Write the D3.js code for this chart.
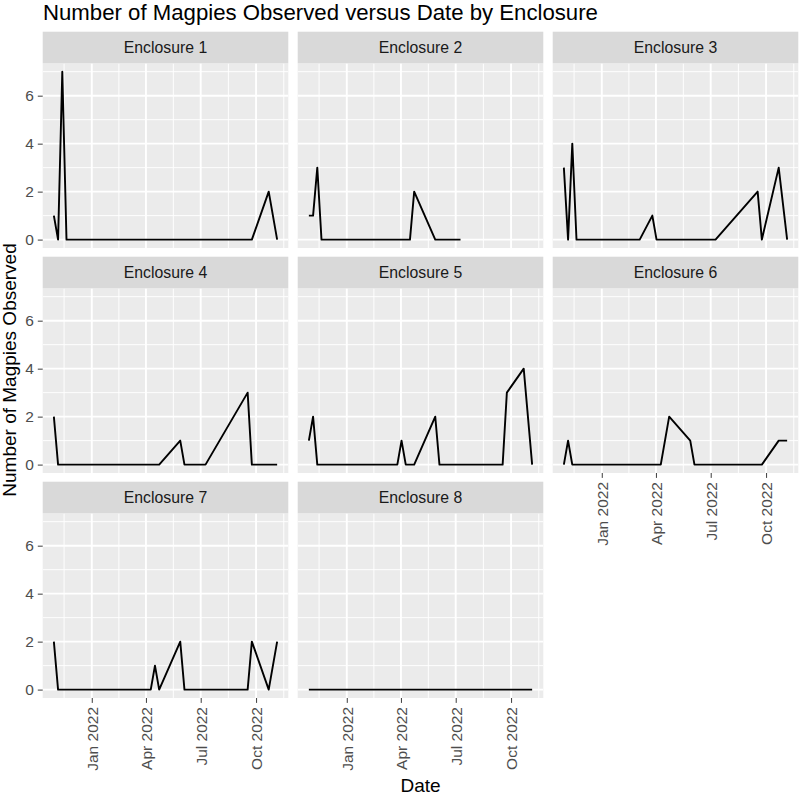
<!DOCTYPE html>
<html>
<head>
<meta charset="utf-8">
<script src="https://cdn.jsdelivr.net/npm/d3@7"></script>
<style>
  html, body { margin: 0; padding: 0; background: #ffffff; }
  svg text { font-family: "Liberation Sans", Arial, Helvetica, sans-serif; }
</style>
</head>
<body>
<svg id="chart" width="800" height="796"></svg>
<script>
// ---- data ----
const enclosures = ["Enclosure 1","Enclosure 2","Enclosure 3","Enclosure 4","Enclosure 5","Enclosure 6","Enclosure 7","Enclosure 8"];
const dates = ["2021-10-30","2021-11-06","2021-11-13","2021-11-20","2022-03-05","2022-03-26","2022-04-02","2022-04-09","2022-04-16","2022-04-23","2022-05-28","2022-06-04","2022-07-09","2022-09-17","2022-09-24","2022-10-22","2022-11-05"];
const enc1 = [1,0,7,0,0,0,0,0,0,0,0,0,0,0,0,2,0];
const enc2 = [1,1,3,0,0,0,0,0,0,2,0,0,0,null,null,null,null];
const enc3 = [3,0,4,0,0,1,0,0,0,0,0,0,0,2,0,3,0];
const enc4 = [2,0,0,0,0,0,0,0,0,0,1,0,0,3,0,0,0];
const enc5 = [1,2,0,0,0,0,1,0,0,0,2,0,0,0,3,4,0];
const enc6 = [0,1,0,0,0,0,0,0,null,2,1,0,0,0,0,1,1];
const enc7 = [2,0,0,0,0,0,0,0,1,0,2,0,0,0,2,0,2];
const enc8 = [0,0,0,0,0,0,0,0,0,0,0,0,0,0,0,0,0];
const seriesValues = [enc1, enc2, enc3, enc4, enc5, enc6, enc7, enc8];
const xTickDates = ["2022-01-01","2022-04-01","2022-07-01","2022-10-01"];
const xTickLabels = ["Jan 2022","Apr 2022","Jul 2022","Oct 2022"];
const yTicks = [0,2,4,6];
const yMinor = [1,3,5,7];
const titleText = "Number of Magpies Observed versus Date by Enclosure";
const xTitle = "Date";
const yTitle = "Number of Magpies Observed";

// ---- layout ----
const W = 800, H = 796;
const left = 42.7, right = 1.7, gap = 9.4;
const panelW = (W - left - right - 2 * gap) / 3;
const stripTops = [31.7, 256.7, 481.7];
const stripH = 31.6, panelH = 184.7;
const ncol = 3;

const parse = d3.utcParse("%Y-%m-%d");
const dateObjs = dates.map(parse);
const tickDates = xTickDates.map(parse);

const svg = d3.select("#chart");
svg.append("rect").attr("width", W).attr("height", H).attr("fill", "#ffffff");

// x scale (same for all panels) with 5% expansion
const ext = d3.extent(dateObjs);
const span = ext[1] - ext[0];
const x = d3.scaleUtc()
  .domain([new Date(+ext[0] - 0.05 * span), new Date(+ext[1] + 0.05 * span)])
  .range([0, panelW]);
// y scale with 5% expansion of [0,7]
const yMax = 7;
const y = d3.scaleLinear().domain([-0.05 * yMax, yMax * 1.05]).range([panelH, 0]);

// minor x breaks: midpoints between consecutive majors (incl. extrapolated)
const majorsExt = [d3.utcMonth.offset(tickDates[0], -3), ...tickDates, d3.utcMonth.offset(tickDates[tickDates.length-1], 3)];
const xMinor = [];
for (let i = 0; i < majorsExt.length - 1; i++) {
  xMinor.push(new Date((+majorsExt[i] + +majorsExt[i+1]) / 2));
}

const line = d3.line()
  .defined(d => d.v !== null)
  .x(d => x(d.date))
  .y(d => y(d.v));

enclosures.forEach((name, i) => {
  const col = i % ncol, row = Math.floor(i / ncol);
  const px = left + col * (panelW + gap);
  const sTop = stripTops[row];
  const pTop = sTop + stripH;
  const g = svg.append("g").attr("transform", `translate(${px},${pTop})`);

  // strip
  svg.append("rect").attr("x", px).attr("y", sTop).attr("width", panelW).attr("height", stripH).attr("fill", "#d9d9d9");
  svg.append("text").attr("x", px + panelW / 2).attr("y", sTop + stripH / 2).attr("dy", "0.36em")
    .attr("text-anchor", "middle").attr("font-size", 15.8).attr("fill", "#1a1a1a").text(name);

  // panel background
  g.append("rect").attr("width", panelW).attr("height", panelH).attr("fill", "#ebebeb");

  // clip
  const clipId = "clip" + i;
  g.append("clipPath").attr("id", clipId).append("rect").attr("width", panelW).attr("height", panelH);
  const grid = g.append("g").attr("clip-path", `url(#${clipId})`);

  // minor grid
  grid.selectAll(".ymin").data(yMinor).enter().append("line")
    .attr("x1", 0).attr("x2", panelW).attr("y1", d => y(d)).attr("y2", d => y(d))
    .attr("stroke", "#ffffff").attr("stroke-width", 0.95);
  grid.selectAll(".xmin").data(xMinor).enter().append("line")
    .attr("y1", 0).attr("y2", panelH).attr("x1", d => x(d)).attr("x2", d => x(d))
    .attr("stroke", "#ffffff").attr("stroke-width", 0.95);
  // major grid
  grid.selectAll(".ymaj").data(yTicks).enter().append("line")
    .attr("x1", 0).attr("x2", panelW).attr("y1", d => y(d)).attr("y2", d => y(d))
    .attr("stroke", "#ffffff").attr("stroke-width", 1.9);
  grid.selectAll(".xmaj").data(tickDates).enter().append("line")
    .attr("y1", 0).attr("y2", panelH).attr("x1", d => x(d)).attr("x2", d => x(d))
    .attr("stroke", "#ffffff").attr("stroke-width", 1.9);

  // data line
  const pts = dateObjs.map((d, k) => ({ date: d, v: seriesValues[i][k] })).filter(d => d.v !== null);
  g.append("path").datum(pts).attr("d", line)
    .attr("fill", "none").attr("stroke", "#000000").attr("stroke-width", 1.9)
    .attr("stroke-linejoin", "round").attr("stroke-linecap", "butt");

  // y axis (first column)
  if (col === 0) {
    const ya = g.append("g").call(d3.axisLeft(y).tickValues(yTicks).tickSize(4.9).tickPadding(3.9).tickFormat(d3.format("d")));
    ya.select(".domain").remove();
    ya.selectAll(".tick line").attr("stroke", "#333333").attr("stroke-width", 0.95);
    ya.selectAll(".tick text").attr("fill", "#4d4d4d").attr("font-size", 15.5)
      .style("font-family", "'Liberation Sans', Arial, sans-serif");
  }
  // x axis (bottom panel of each column)
  const isBottom = (i + ncol >= enclosures.length);
  if (isBottom) {
    const xa = g.append("g").attr("transform", `translate(0,${panelH})`)
      .call(d3.axisBottom(x).tickValues(tickDates).tickSize(4.9).tickFormat((d, k) => xTickLabels[k]));
    xa.select(".domain").remove();
    xa.selectAll(".tick line").attr("stroke", "#333333").attr("stroke-width", 0.95);
    xa.selectAll(".tick text")
      .attr("fill", "#4d4d4d").attr("font-size", 15.5)
      .style("font-family", "'Liberation Sans', Arial, sans-serif")
      .attr("transform", "rotate(-90)")
      .attr("text-anchor", "end")
      .attr("x", -9).attr("y", 0).attr("dy", "0.35em");
  }
});

// title
svg.append("text").attr("x", 43).attr("y", 19.5).attr("font-size", 22.2).attr("fill", "#000000").text(titleText);
// x axis title
svg.append("text").attr("x", left + (W - left - right) / 2).attr("y", 792).attr("text-anchor", "middle")
  .attr("font-size", 19).attr("fill", "#000000").text(xTitle);
// y axis title
const yMid = 370;
svg.append("text").attr("transform", `translate(15.5,${yMid}) rotate(-90)`).attr("text-anchor", "middle")
  .attr("font-size", 19).attr("fill", "#000000").text(yTitle);
</script>
</body>
</html>
